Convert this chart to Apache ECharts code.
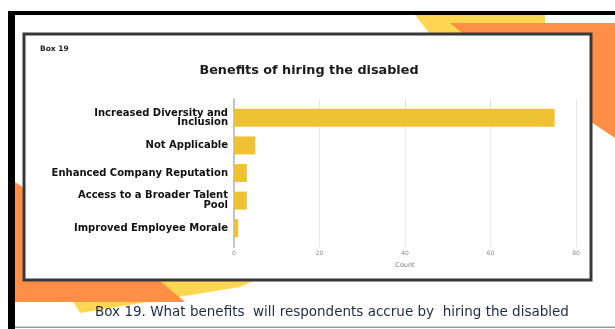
<!DOCTYPE html>
<html>
<head>
<meta charset="utf-8">
<style>
  html, body { margin: 0; padding: 0; background: #fff; }
  #chart { width: 615px; height: 329px; }
</style>
<script src="https://cdn.jsdelivr.net/npm/echarts@6/dist/echarts.min.js"></script>
</head>
<body>
<div id="chart"></div>
<script>
// Survey responses: benefits of hiring the disabled (counts)
const categories = [
  'Increased Diversity and\nInclusion',
  'Not Applicable',
  'Enhanced Company Reputation',
  'Access to a Broader Talent\nPool',
  'Improved Employee Morale'
];
const counts = [75, 5, 3, 3, 1];
const countTicks = { min: 0, max: 80, interval: 20 };

const chartTitle = 'Benefits of hiring the disabled';
const boxLabel = 'Box 19';
const caption = 'Box 19. What benefits  will respondents accrue by  hiring the disabled';

const YELLOW = '#FFD64F';
const ORANGE = '#FF8E46';
const BAR = '#EEC232';
const LABEL_FONT = '"DejaVu Sans", sans-serif';

const chart = echarts.init(document.getElementById('chart'), null, { renderer: 'canvas' });

// Slide decoration drawn behind the chart panel
const slideShapes = [
  // top-right accents
  { type: 'polygon', z: -20, shape: { points: [[415, 15], [545, 15], [545, 34], [430, 34]] }, style: { fill: YELLOW } },
  { type: 'polygon', z: -19, shape: { points: [[450, 23], [615, 23], [615, 138], [585, 118], [463, 34]] }, style: { fill: ORANGE } },
  // bottom-left accents
  { type: 'polygon', z: -20, shape: { points: [[60, 280], [255, 280], [240, 287], [80, 313]] }, style: { fill: YELLOW } },
  { type: 'polygon', z: -19, shape: { points: [[15, 182], [160, 281], [185, 302], [15, 302]] }, style: { fill: ORANGE } },
  // frame lines
  { type: 'rect', z: -18, shape: { x: 8, y: 11, width: 7, height: 318 }, style: { fill: '#000' } },
  { type: 'rect', z: -18, shape: { x: 8, y: 11, width: 607, height: 4 }, style: { fill: '#000' } },
  { type: 'rect', z: -18, shape: { x: 15, y: 326.5, width: 600, height: 1.5 }, style: { fill: '#9a9a9a' } },
  // white chart panel
  { type: 'rect', z: -10, shape: { x: 24, y: 34, width: 567, height: 246 }, style: { fill: '#fff', stroke: '#383838', lineWidth: 3 } },
  // texts
  { type: 'text', z: -5, left: 40, top: 45, style: { text: boxLabel, font: 'bold 7.5px ' + LABEL_FONT, fill: '#222' } },
  { type: 'text', z: -5, left: 95, top: 305, style: { text: caption, font: '13.5px ' + LABEL_FONT, fill: '#1e2a4a' } }
];

const option = {
  animation: false,
  backgroundColor: '#fff',
  title: {
    text: chartTitle,
    left: 304,
    top: 59,
    textAlign: 'center',
    textStyle: { fontFamily: LABEL_FONT, fontWeight: 'bold', fontSize: 12.8, color: '#1a1a1a' }
  },
  graphic: { elements: slideShapes },
  grid: [
    // gridlines, count axis and the zero line
    { left: 234, width: 342, top: 99, height: 148, containLabel: false },
    // bars and category labels
    { left: 234, width: 342, top: 104, height: 138, containLabel: false }
  ],
  xAxis: [
    {
      gridIndex: 0, type: 'value', ...countTicks,
      axisLine: { show: false }, axisTick: { show: false },
      splitLine: { show: true, lineStyle: { color: '#e6e6e6', width: 1 } },
      axisLabel: { fontSize: 6, color: '#8a8a8a', margin: 3, fontFamily: LABEL_FONT },
      name: 'Count', nameLocation: 'middle', nameGap: 15,
      nameTextStyle: { fontSize: 6.5, color: '#7a7a7a', fontFamily: LABEL_FONT }
    },
    { gridIndex: 1, type: 'value', ...countTicks, show: false }
  ],
  yAxis: [
    {
      gridIndex: 0, type: 'value', min: 0, max: 1,
      axisLine: { show: true, lineStyle: { color: '#c4c4c4', width: 2 } },
      axisTick: { show: false }, axisLabel: { show: false }, splitLine: { show: false }
    },
    {
      gridIndex: 1, type: 'category', data: categories, inverse: true,
      axisLine: { show: false }, axisTick: { show: false }, splitLine: { show: false },
      axisLabel: {
        margin: 6, fontFamily: LABEL_FONT, fontWeight: 'bold', fontSize: 10,
        color: '#111', lineHeight: 9.5, align: 'right'
      }
    }
  ],
  series: [{
    type: 'bar', xAxisIndex: 1, yAxisIndex: 1,
    data: counts, barWidth: 18,
    itemStyle: { color: BAR }
  }]
};

chart.setOption(option);
</script>
</body>
</html>
